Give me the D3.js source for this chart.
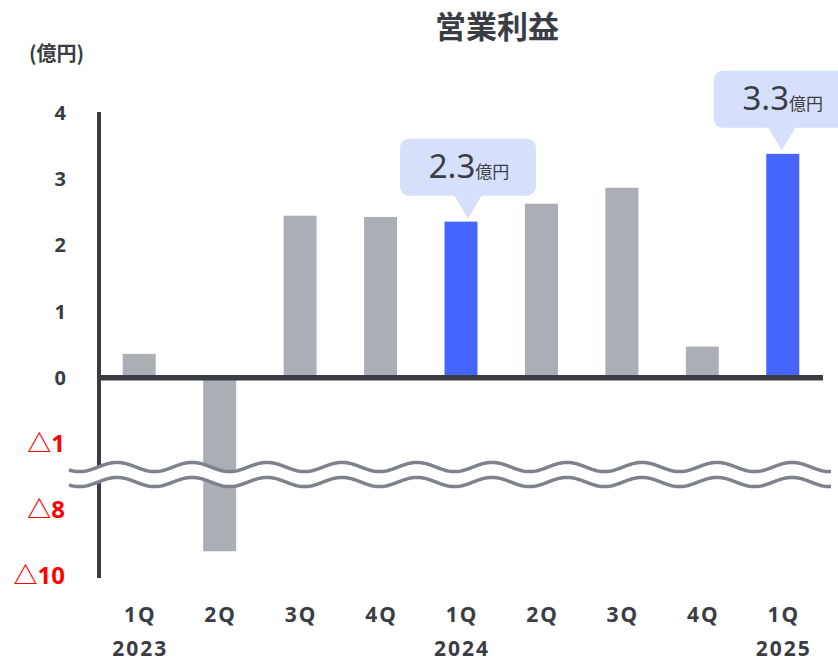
<!DOCTYPE html>
<html><head><meta charset="utf-8">
<script src="https://cdn.jsdelivr.net/npm/d3@7"></script>
<style>
html,body{margin:0;padding:0;background:#fff;overflow:hidden}
text{font-family:"Noto Sans","Noto Sans CJK JP",sans-serif}
</style></head>
<body><svg id="c" width="838" height="661"></svg>
<script>
const quarters = ["1Q","2Q","3Q","4Q","1Q","2Q","3Q","4Q","1Q"];
const years = ["2023","","","","2024","","","","2025"];
const values = [0.36, -9.25, 2.44, 2.42, 2.35, 2.62, 2.86, 0.47, 3.37];
const highlight = [false,false,false,false,true,false,false,false,true];
const calloutLabels = ["","","","","2.3","","","","3.3"];
const yTicks = [4,3,2,1,0,-1,-8,-10];

const dark = "#3a3d44", gray = "#abaeb5", blue = "#4466ff", red = "#ff0000";
const svg = d3.select("#c");

const x = d3.scaleBand().domain(d3.range(quarters.length)).range([99,823]).paddingInner(0.59).paddingOuter(0.295);
// broken (piecewise) scale
const y = d3.scaleLinear().domain([-10,-8,-1,4]).range([576,510,444.25,112]);

// title
svg.append("text").attr("x",497).attr("y",38).attr("text-anchor","middle")
  .attr("font-size",31).attr("font-weight",700).attr("fill",dark)
  .style("font-family","'Noto Sans CJK JP',sans-serif").text("営業利益");
svg.append("text").attr("x",29).attr("y",61)
  .attr("font-size",20).attr("font-weight",700).attr("fill",dark)
  .style("font-family","'Noto Sans CJK JP',sans-serif").text("(億円)");

// bars
svg.append("g").selectAll("rect").data(values).join("rect")
  .attr("x",(d,i)=>x(i)).attr("width",x.bandwidth())
  .attr("y",d=>y(Math.max(0,d))).attr("height",d=>Math.abs(y(d)-y(0)))
  .attr("fill",(d,i)=>highlight[i]?blue:gray);

// y axis labels
const yAxis = d3.axisLeft(y).tickValues(yTicks).tickSize(0).tickPadding(0)
  .tickFormat(d=> d<0 ? "△"+Math.abs(d) : String(d));
const ga = svg.append("g").attr("transform","translate(66,0)").call(yAxis);
ga.select(".domain").remove();
ga.selectAll("text").attr("font-size",d=>d<0?24:20).attr("font-weight",700)
  .attr("fill",d=>d<0?red:dark).attr("dy",d=>d<0?"0.3em":"0.35em")
  .attr("x",d=>d<0?-1:0)
  .style("font-family","'Noto Sans','Noto Sans CJK JP',sans-serif");

// axis lines
svg.append("line").attr("x1",99).attr("x2",99).attr("y1",y(4)).attr("y2",578)
  .attr("stroke",dark).attr("stroke-width",4);
svg.append("line").attr("x1",97).attr("x2",823).attr("y1",y(0)).attr("y2",y(0))
  .attr("stroke",dark).attr("stroke-width",5.5);

// break waves
const wl = 75, ph = 117, amp = 4.6, yU = 467, yL = 482;
const xs = d3.range(69, 832, 1);
const wave = (c)=> xs.map(px=>[px, c - amp*Math.cos(2*Math.PI*(px-ph)/wl)]);
const upper = wave(yU), lower = wave(yL);
const area = d3.area().x(d=>d[0]).y0(d=>d[1]).y1(d=>d[2]);
svg.append("path").datum(xs.map((px,i)=>[px, upper[i][1], lower[i][1]]))
  .attr("d",area).attr("fill","#fff");
const line = d3.line();
[upper, lower].forEach(w=>svg.append("path").attr("d",line(w))
  .attr("fill","none").attr("stroke","#7d828b").attr("stroke-width",3.5));

// x labels
const gx = svg.append("g");
gx.selectAll("text.q").data(quarters).join("text").attr("class","q")
  .attr("x",(d,i)=>x(i)+x.bandwidth()/2+1).attr("y",622).attr("text-anchor","middle")
  .attr("font-size",21).attr("font-weight",700).attr("letter-spacing",2).attr("fill",dark).text(d=>d);
gx.selectAll("text.y").data(years).join("text").attr("class","y")
  .attr("x",(d,i)=>x(i)+x.bandwidth()/2+1).attr("y",656).attr("text-anchor","middle")
  .attr("font-size",21).attr("font-weight",700).attr("letter-spacing",2).attr("fill",dark).text(d=>d);

// callouts
const cw = 136, ch = 57, tail = 23;
const calloutDx = [0,0,0,0,7,0,0,0,-1];
calloutLabels.forEach((lab,i)=>{
  if(!lab) return;
  const cx = x(i)+x.bandwidth()/2 + calloutDx[i];
  const tipY = y(values[i]) - 3;
  const boxB = tipY - tail, boxT = boxB - ch;
  const g = svg.append("g");
  g.append("rect").attr("x",cx-cw/2).attr("y",boxT).attr("width",cw).attr("height",ch)
    .attr("rx",9).attr("fill","#d7e0fa");
  g.append("path").attr("d",`M${cx-14},${boxB-1}L${cx+14},${boxB-1}L${cx},${tipY}Z`).attr("fill","#d7e0fa");
  const t = g.append("text").attr("x",cx+1).attr("y",boxT+39).attr("text-anchor","middle").attr("fill",dark);
  t.append("tspan").attr("font-size",33).text(lab);
  t.append("tspan").attr("font-size",17).style("font-family","'Noto Sans CJK JP',sans-serif").text("億円");
});
</script></body></html>
